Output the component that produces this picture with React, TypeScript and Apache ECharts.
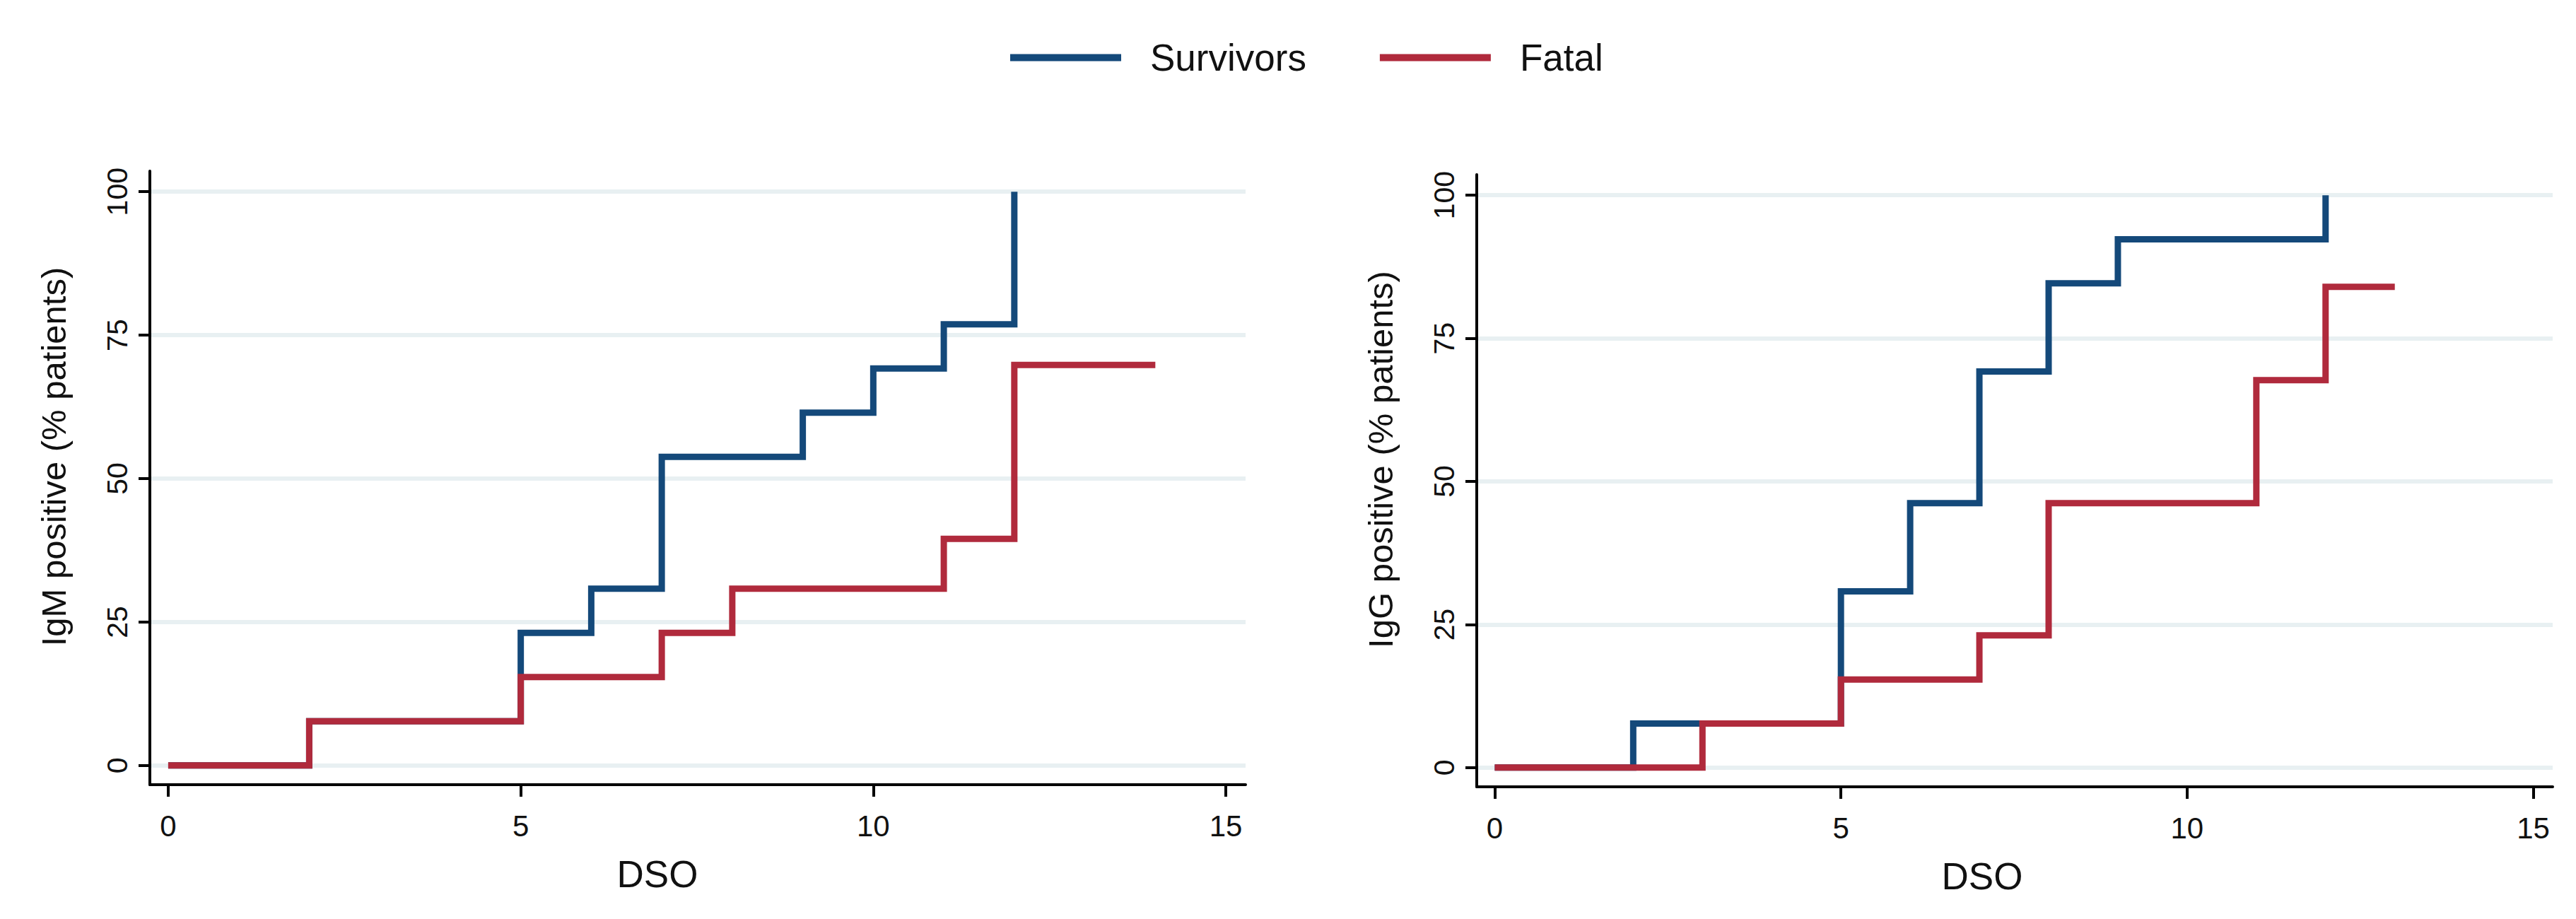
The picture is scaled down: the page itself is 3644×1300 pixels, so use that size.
import React, { useEffect, useRef } from "react";
import * as echarts from "echarts";

const FONT = "'Liberation Sans', Arial, Helvetica, sans-serif";

const seriesNames = ["Survivors", "Fatal"];
const seriesColors = ["#14497a", "#b02a3c"];

const xTicks = [0, 5, 10, 15];
const yTicks = [0, 25, 50, 75, 100];

// IgM panel
const igmSurvDays = [0, 2, 5, 6, 7, 9, 10, 11, 12];
const igmSurvPct = [0, 7.7, 23.1, 30.8, 53.8, 61.5, 69.2, 76.9, 100];
const igmFatalDays = [0, 2, 5, 7, 8, 11, 12, 14];
const igmFatalPct = [0, 7.7, 15.4, 23.1, 30.8, 39.5, 69.8, 69.8];

// IgG panel
const iggSurvDays = [0, 2, 5, 6, 7, 8, 9, 12];
const iggSurvPct = [0, 7.7, 30.8, 46.2, 69.2, 84.6, 92.3, 100];
const iggFatalDays = [0, 3, 5, 7, 8, 11, 12, 13];
const iggFatalPct = [0, 7.7, 15.4, 23.1, 46.2, 67.7, 84.0, 84.0];

const yTitles = ["IgM positive (% patients)", "IgG positive (% patients)"];
const xTitle = "DSO";

const zip = (xs: number[], ys: number[]) => xs.map((x, i) => [x, ys[i]]);

export default function App() {
  const ref = useRef<HTMLDivElement>(null);

  useEffect(() => {
    document.body.style.margin = "0";
    if (!ref.current) return;
    const chart = echarts.init(ref.current, undefined, { renderer: "svg" });

    const grids = [
      { left: 212, top: 242, width: 1550, height: 868 },
      { left: 2089, top: 247, width: 1522, height: 866 },
    ];
    const xNamePad = [114, 92];

    const xAxes = grids.map((_, i) => ({
      type: "value",
      gridIndex: i,
      min: -0.26,
      max: 15.28,
      axisLine: { onZero: false, lineStyle: { color: "#000", width: 4 } },
      axisTick: { length: 17, customValues: xTicks, lineStyle: { color: "#000", width: 4 } },
      axisLabel: { customValues: xTicks, fontSize: 42, margin: 37, color: "#111", fontFamily: FONT },
      splitLine: { show: false },
      name: xTitle,
      nameLocation: "middle",
      nameGap: 100,
      nameTextStyle: { fontSize: 53, color: "#111", fontFamily: FONT, padding: [0, xNamePad[i], 0, 0] },
    }));

    const yAxes = grids.map((_, i) => ({
      type: "value",
      gridIndex: i,
      min: -3.35,
      max: 103.6,
      axisLine: { onZero: false, lineStyle: { color: "#000", width: 4 } },
      axisTick: { length: 16, customValues: yTicks, lineStyle: { color: "#000", width: 4 } },
      axisLabel: { customValues: yTicks, rotate: 90, fontSize: 41, margin: 26, color: "#111", fontFamily: FONT },
      splitLine: { show: true, lineStyle: { color: "#e8f0f2", width: 6 } },
      name: yTitles[i],
      nameLocation: "middle",
      nameGap: 112,
      nameRotate: 90,
      nameTextStyle: { fontSize: 49, color: "#111", fontFamily: FONT, padding: [0, 0, 0, 60] },
    }));

    const mk = (name: string, color: string, idx: number, data: number[][]) => ({
      type: "line",
      name,
      xAxisIndex: idx,
      yAxisIndex: idx,
      step: "end",
      symbol: "none",
      data,
      itemStyle: { color },
      lineStyle: { color, width: 9, join: "miter", cap: "butt" },
    });

    chart.setOption({
      animation: false,
      backgroundColor: "#fff",
      textStyle: { fontFamily: FONT },
      legend: {
        data: seriesNames,
        left: 1424,
        top: 50,
        icon: "rect",
        itemWidth: 157,
        itemHeight: 10,
        itemGap: 104,
        textStyle: { fontSize: 53, color: "#111", fontFamily: FONT, padding: [0, 0, 0, 36] },
      },
      grid: grids,
      xAxis: xAxes,
      yAxis: yAxes,
      series: [
        mk(seriesNames[0], seriesColors[0], 0, zip(igmSurvDays, igmSurvPct)),
        mk(seriesNames[1], seriesColors[1], 0, zip(igmFatalDays, igmFatalPct)),
        mk(seriesNames[0], seriesColors[0], 1, zip(iggSurvDays, iggSurvPct)),
        mk(seriesNames[1], seriesColors[1], 1, zip(iggFatalDays, iggFatalPct)),
      ],
    });

    return () => chart.dispose();
  }, []);

  return <div ref={ref} style={{ width: 3644, height: 1300 }} />;
}
